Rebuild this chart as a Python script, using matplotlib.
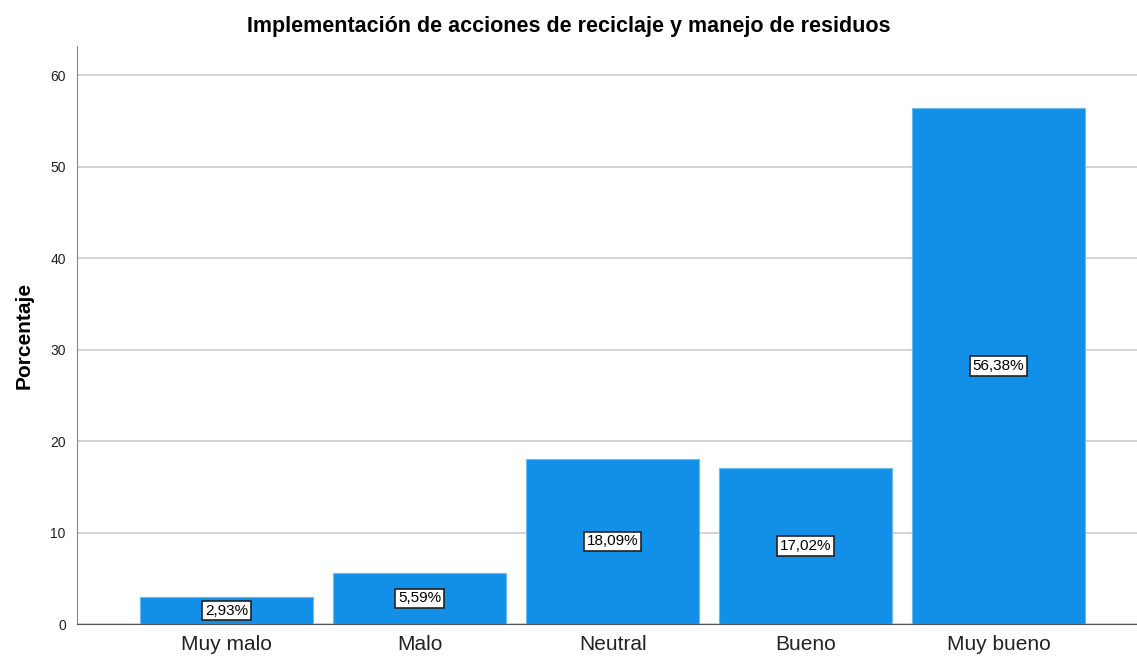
import numpy as np
from matplotlib import pyplot as plt

plt.rcParams['font.family'] = ['Liberation Sans', 'DejaVu Sans']

# Data
categories = ['Muy malo', 'Malo', 'Neutral', 'Bueno', 'Muy bueno']
percentages = [2.93, 5.59, 18.09, 17.02, 56.38]
labels = ['2,93%', '5,59%', '18,09%', '17,02%', '56,38%']
yticks = [0, 10, 20, 30, 40, 50, 60]

fig = plt.figure(figsize=(11.37, 6.57), dpi=100)
ax = fig.add_axes([0.0677, 0.0502, 0.9323, 0.8798])

x = np.arange(len(categories))
ax.bar(x, percentages, width=0.896, color='#1290e8', edgecolor='#6ab8f0',
       linewidth=0.8, zorder=3)

for xi, v, lab in zip(x, percentages, labels):
    ax.text(xi, v / 2, lab, ha='center', va='center', fontsize=11, zorder=4,
            bbox=dict(boxstyle='square,pad=0.18', facecolor='white',
                      edgecolor='#222222', linewidth=1.2))

ax.set_xlim(-0.775, 4.717)
ax.set_ylim(0, 63.2)
ax.set_yticks(yticks)
ax.set_xticks(x)
ax.set_xticklabels(categories, fontsize=15, color='#222222')
ax.tick_params(axis='x', length=0, pad=8)
ax.tick_params(axis='y', length=0, labelsize=10, pad=8, labelcolor='#222222')

ax.yaxis.grid(True, color='#cccccc', linewidth=1.2, zorder=0)
ax.set_axisbelow(True)
for s in ['top', 'right']:
    ax.spines[s].set_visible(False)
ax.spines['left'].set_color('#888888')
ax.spines['bottom'].set_color('#555555')

ax.set_ylabel('Porcentaje', fontsize=15, fontweight='bold', labelpad=12)
fig.suptitle('Implementación de acciones de reciclaje y manejo de residuos',
             fontsize=15.5, fontweight='bold', x=0.5, y=0.975)

fig.savefig('out.png', dpi=100)
